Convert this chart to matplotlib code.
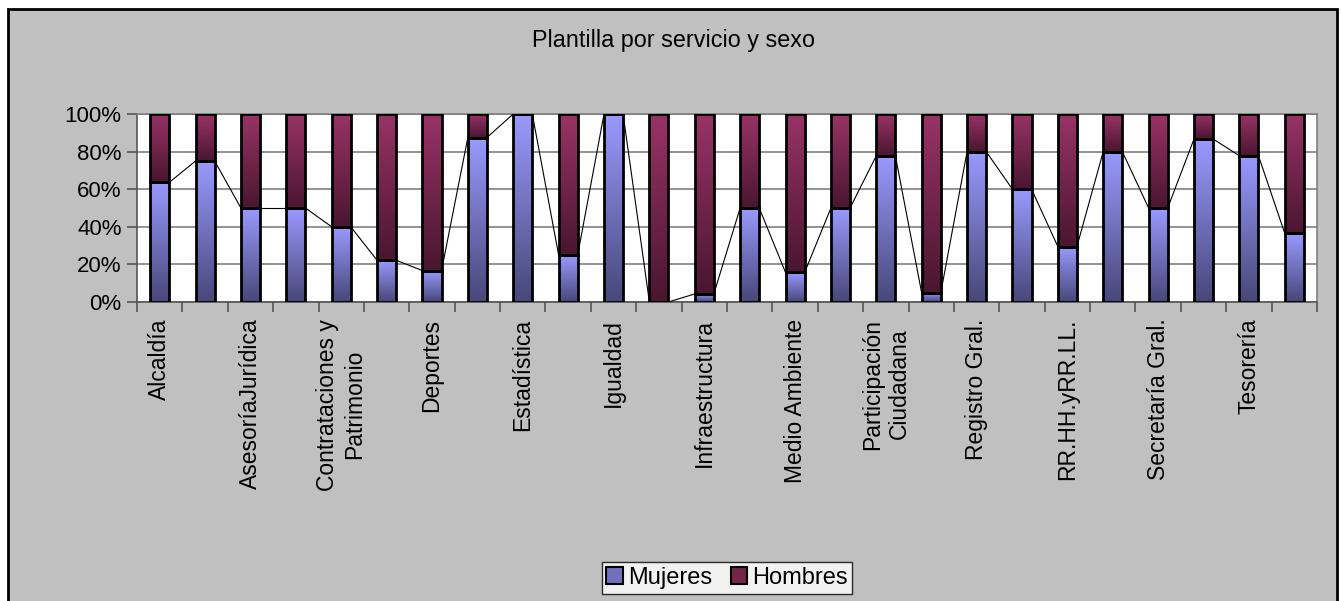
import numpy as np
import matplotlib
matplotlib.use('Agg')
import matplotlib.pyplot as plt
from matplotlib.patches import Rectangle, Patch
from matplotlib.colors import LinearSegmentedColormap

plt.rcParams['font.family'] = ['Liberation Sans', 'DejaVu Sans']

# ---- data ----
TITLE = 'Plantilla por servicio y sexo'
servicios = [
    'Alcaldía', 'Archivo', 'AsesoríaJurídica', 'Cementerio',
    'Contrataciones y\nPatrimonio', 'Cultura', 'Deportes', 'Educación',
    'Estadística', 'Fiestas', 'Igualdad', 'Informática',
    'Infraestructura', 'Juventud', 'Medio Ambiente', 'Mercado',
    'Participación\nCiudadana', 'Policía Local', 'Registro Gral.', 'Rentas',
    'RR.HH.yRR.LL.', 'Sanidad', 'Secretaría Gral.', 'Servicios Sociales',
    'Tesorería', 'Urbanismo',
]
mujeres = [0.636, 0.75, 0.50, 0.50, 0.40, 0.222, 0.167, 0.875, 1.0, 0.25,
           1.0, 0.0, 0.043, 0.50, 0.157, 0.50, 0.778, 0.048, 0.80, 0.60,
           0.295, 0.80, 0.50, 0.867, 0.778, 0.365]
hombres = [1 - m for m in mujeres]
y_ticks = [0, 0.2, 0.4, 0.6, 0.8, 1.0]
y_labels = ['0%', '20%', '40%', '60%', '80%', '100%']
# ---------------------------------------

W, H = 1341, 601
fig = plt.figure(figsize=(W / 100, H / 100), dpi=100, facecolor='white')

# grey chart area with black frame
fig.patches.append(Rectangle((8 / W, -0.02), 1329 / W, (H - 9) / H + 0.02,
                             transform=fig.transFigure, facecolor='#c0c0c0',
                             edgecolor='black', lw=2, zorder=-10))

ax = fig.add_axes([137 / W, 299 / H, 1180 / W, 188 / H])
ax.set_facecolor('white')

x = np.arange(len(servicios))
bw = 0.42
b_m = ax.bar(x, mujeres, bw, facecolor='none', edgecolor='black', lw=2, zorder=4)
b_h = ax.bar(x, hombres, bw, bottom=mujeres, facecolor='none',
             edgecolor='black', lw=2, zorder=4)

cm_m = LinearSegmentedColormap.from_list('m', ['#48487a', '#9999ff'])
cm_h = LinearSegmentedColormap.from_list('h', ['#4a1630', '#993366'])
grad = np.linspace(0, 1, 64).reshape(-1, 1)

def fill_gradient(bars, cmap):
    for p in bars.patches:
        if p.get_height() <= 0:
            continue
        x0, y0 = p.get_x(), p.get_y()
        ax.imshow(grad, cmap=cmap, origin='lower', aspect='auto',
                  extent=[x0, x0 + p.get_width(), y0, y0 + p.get_height()],
                  zorder=3, interpolation='bilinear')

fill_gradient(b_m, cm_m)
fill_gradient(b_h, cm_h)

# series lines between the tops of the Mujeres segments
for i in range(len(x) - 1):
    ax.plot([x[i] + bw / 2, x[i + 1] - bw / 2], [mujeres[i], mujeres[i + 1]],
            color='black', lw=0.8, zorder=5)

ax.set_xlim(-0.5, len(x) - 0.5)
ax.set_ylim(0, 1)

ax.set_yticks(y_ticks)
ax.set_yticklabels(y_labels, fontsize=16)
ax.yaxis.grid(True, color='#808080', lw=1.2, zorder=1)
ax.set_axisbelow(True)
ax.tick_params(axis='y', length=7, width=1.2, color='#555555', pad=4)

ax.set_xticks(np.arange(len(x) + 1) - 0.5)
ax.set_xticklabels([])
ax.tick_params(axis='x', which='major', length=7, width=1.2, color='#555555')
ax.set_xticks(x[::2], minor=True)
ax.set_xticklabels(servicios[::2], minor=True, rotation=90, fontsize=16.5,
                   ha='center', va='top', multialignment='center')
ax.tick_params(axis='x', which='minor', length=0, pad=12)

for s in ['left', 'bottom']:
    ax.spines[s].set_color('#555555')
    ax.spines[s].set_linewidth(1.2)
for s in ['top', 'right']:
    ax.spines[s].set_color('#808080')
    ax.spines[s].set_linewidth(1.2)

fig.text(673 / W, 1 - 41 / H, TITLE, ha='center', va='center', fontsize=16.8)

handles = [Patch(facecolor='#7070c0', edgecolor='black', lw=1.5),
           Patch(facecolor='#742548', edgecolor='black', lw=1.5)]
leg = fig.legend(handles, ['Mujeres', 'Hombres'], loc='center',
                 bbox_to_anchor=(727 / W, 1 - 578 / H), ncol=2, fontsize=17,
                 frameon=True, fancybox=False, edgecolor='black',
                 handlelength=0.7, handleheight=0.7, handletextpad=0.2,
                 columnspacing=0.8, borderpad=0.2, borderaxespad=0)
leg.get_frame().set_linewidth(1)

fig.savefig('out.png', dpi=100, facecolor=fig.get_facecolor())
